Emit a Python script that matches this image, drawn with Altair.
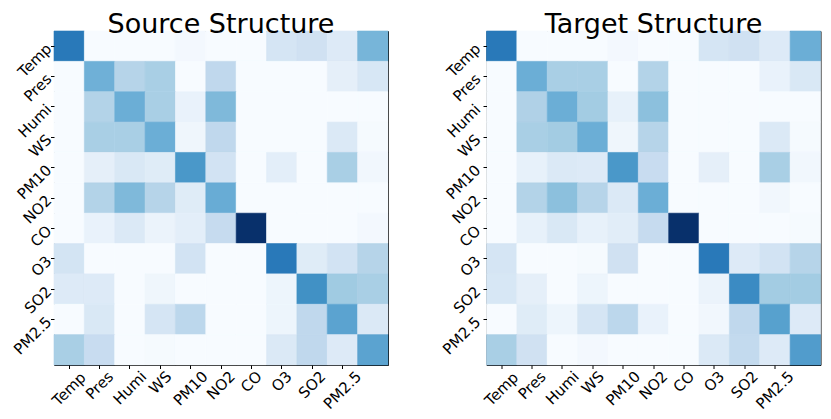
import altair as alt
import pandas as pd

labels = ["Temp", "Pres", "Humi", "WS", "PM10", "NO2", "CO", "O3", "SO2", "PM2.5"]
n_cells = 11

source = [
    [0.72, 0.00, 0.00, 0.00, 0.02, 0.00, 0.00, 0.17, 0.20, 0.13, 0.47],
    [0.00, 0.49, 0.30, 0.34, 0.00, 0.27, 0.00, 0.00, 0.00, 0.09, 0.16],
    [0.00, 0.31, 0.50, 0.34, 0.07, 0.45, 0.00, 0.00, 0.00, 0.00, 0.00],
    [0.00, 0.34, 0.34, 0.50, 0.04, 0.27, 0.00, 0.00, 0.00, 0.14, 0.01],
    [0.00, 0.09, 0.15, 0.12, 0.60, 0.19, 0.00, 0.10, 0.00, 0.34, 0.03],
    [0.00, 0.31, 0.45, 0.30, 0.12, 0.51, 0.00, 0.00, 0.00, 0.00, 0.00],
    [0.00, 0.07, 0.14, 0.06, 0.10, 0.25, 1.00, 0.00, 0.00, 0.00, 0.02],
    [0.18, 0.00, 0.00, 0.00, 0.19, 0.00, 0.00, 0.72, 0.12, 0.19, 0.30],
    [0.13, 0.13, 0.00, 0.04, 0.00, 0.00, 0.00, 0.05, 0.63, 0.37, 0.34],
    [0.00, 0.15, 0.00, 0.17, 0.28, 0.00, 0.00, 0.05, 0.27, 0.55, 0.14],
    [0.34, 0.24, 0.00, 0.01, 0.00, 0.00, 0.00, 0.14, 0.27, 0.13, 0.55],
]

target = [
    [0.72, 0.00, 0.00, 0.00, 0.02, 0.00, 0.00, 0.17, 0.20, 0.13, 0.50],
    [0.00, 0.50, 0.34, 0.34, 0.00, 0.31, 0.00, 0.00, 0.00, 0.07, 0.15],
    [0.00, 0.32, 0.50, 0.36, 0.08, 0.42, 0.00, 0.00, 0.00, 0.00, 0.00],
    [0.00, 0.34, 0.36, 0.50, 0.04, 0.30, 0.00, 0.00, 0.00, 0.14, 0.01],
    [0.00, 0.08, 0.14, 0.13, 0.60, 0.24, 0.00, 0.09, 0.00, 0.34, 0.03],
    [0.00, 0.31, 0.42, 0.30, 0.14, 0.50, 0.00, 0.00, 0.00, 0.03, 0.00],
    [0.00, 0.08, 0.15, 0.08, 0.11, 0.25, 1.00, 0.00, 0.00, 0.00, 0.01],
    [0.17, 0.00, 0.00, 0.01, 0.20, 0.00, 0.00, 0.72, 0.13, 0.19, 0.30],
    [0.16, 0.09, 0.00, 0.05, 0.00, 0.00, 0.00, 0.06, 0.65, 0.36, 0.36],
    [0.00, 0.12, 0.05, 0.17, 0.28, 0.07, 0.00, 0.03, 0.27, 0.56, 0.13],
    [0.34, 0.20, 0.00, 0.02, 0.00, 0.00, 0.00, 0.14, 0.26, 0.13, 0.58],
]

blues = ["#f7fbff", "#deebf7", "#c6dbef", "#9ecae1", "#6baed6",
         "#4292c6", "#2171b5", "#08519c", "#08306b"]
stops = [i / 8 for i in range(9)]

# label padding on x so that rotated label tops line up (layout only)
x_pads = [20.0, 16.4, 19.0, 13.6, 19.5, 16.5, 12.8, 12.5, 15.9, 21.2]


def frame(m):
    rows = []
    for r in range(n_cells):
        for c in range(n_cells):
            rows.append({"row": r, "col": c, "value": m[r][c]})
    return pd.DataFrame(rows)


label_expr = "[" + ",".join("'%s'" % l for l in labels) + "][datum.value]"
pad_cond = {
    "condition": [{"test": "datum.value == %d" % i, "value": p} for i, p in enumerate(x_pads)],
    "value": 15,
}
tick_values = list(range(len(labels)))


def panel(m, title, ypad):
    cs = alt.Scale(domain=stops, range=blues, interpolate="rgb")
    return alt.Chart(frame(m)).mark_rect(strokeWidth=0.6).encode(
        x=alt.X("col:O", scale=alt.Scale(paddingInner=0, paddingOuter=0),
                axis=alt.Axis(values=tick_values, labelExpr=label_expr, labelAngle=315,
                              labelAlign="center", labelBaseline="middle",
                              labelPadding=pad_cond, title=None)),
        y=alt.Y("row:O", scale=alt.Scale(paddingInner=0, paddingOuter=0),
                axis=alt.Axis(values=tick_values, labelExpr=label_expr, labelAngle=315,
                              labelAlign="right", labelBaseline="middle",
                              labelPadding=ypad, title=None)),
        color=alt.Color("value:Q", scale=cs, legend=None),
        stroke=alt.Stroke("value:Q", scale=cs, legend=None),
    ).properties(
        width=334, height=334,
        title=alt.TitleParams(title, fontSize=27, offset=-8),
    )


chart = alt.hconcat(
    panel(source, "Source Structure", 2),
    panel(target, "Target Structure", 5.5),
    spacing=50.5,
).configure_view(
    stroke="black", strokeWidth=1
).configure_axis(
    domain=False, grid=False, tickColor="black", tickSize=3.5, tickWidth=1,
    labelFont="DejaVu Sans", labelFontSize=15, labelColor="black",
).configure_title(
    font="DejaVu Sans", fontWeight="normal", color="black",
).properties(
    padding={"left": 2, "top": 2, "right": 0, "bottom": 0}
)

chart.save("out.html", embed_options={"renderer": "svg", "actions": False})
